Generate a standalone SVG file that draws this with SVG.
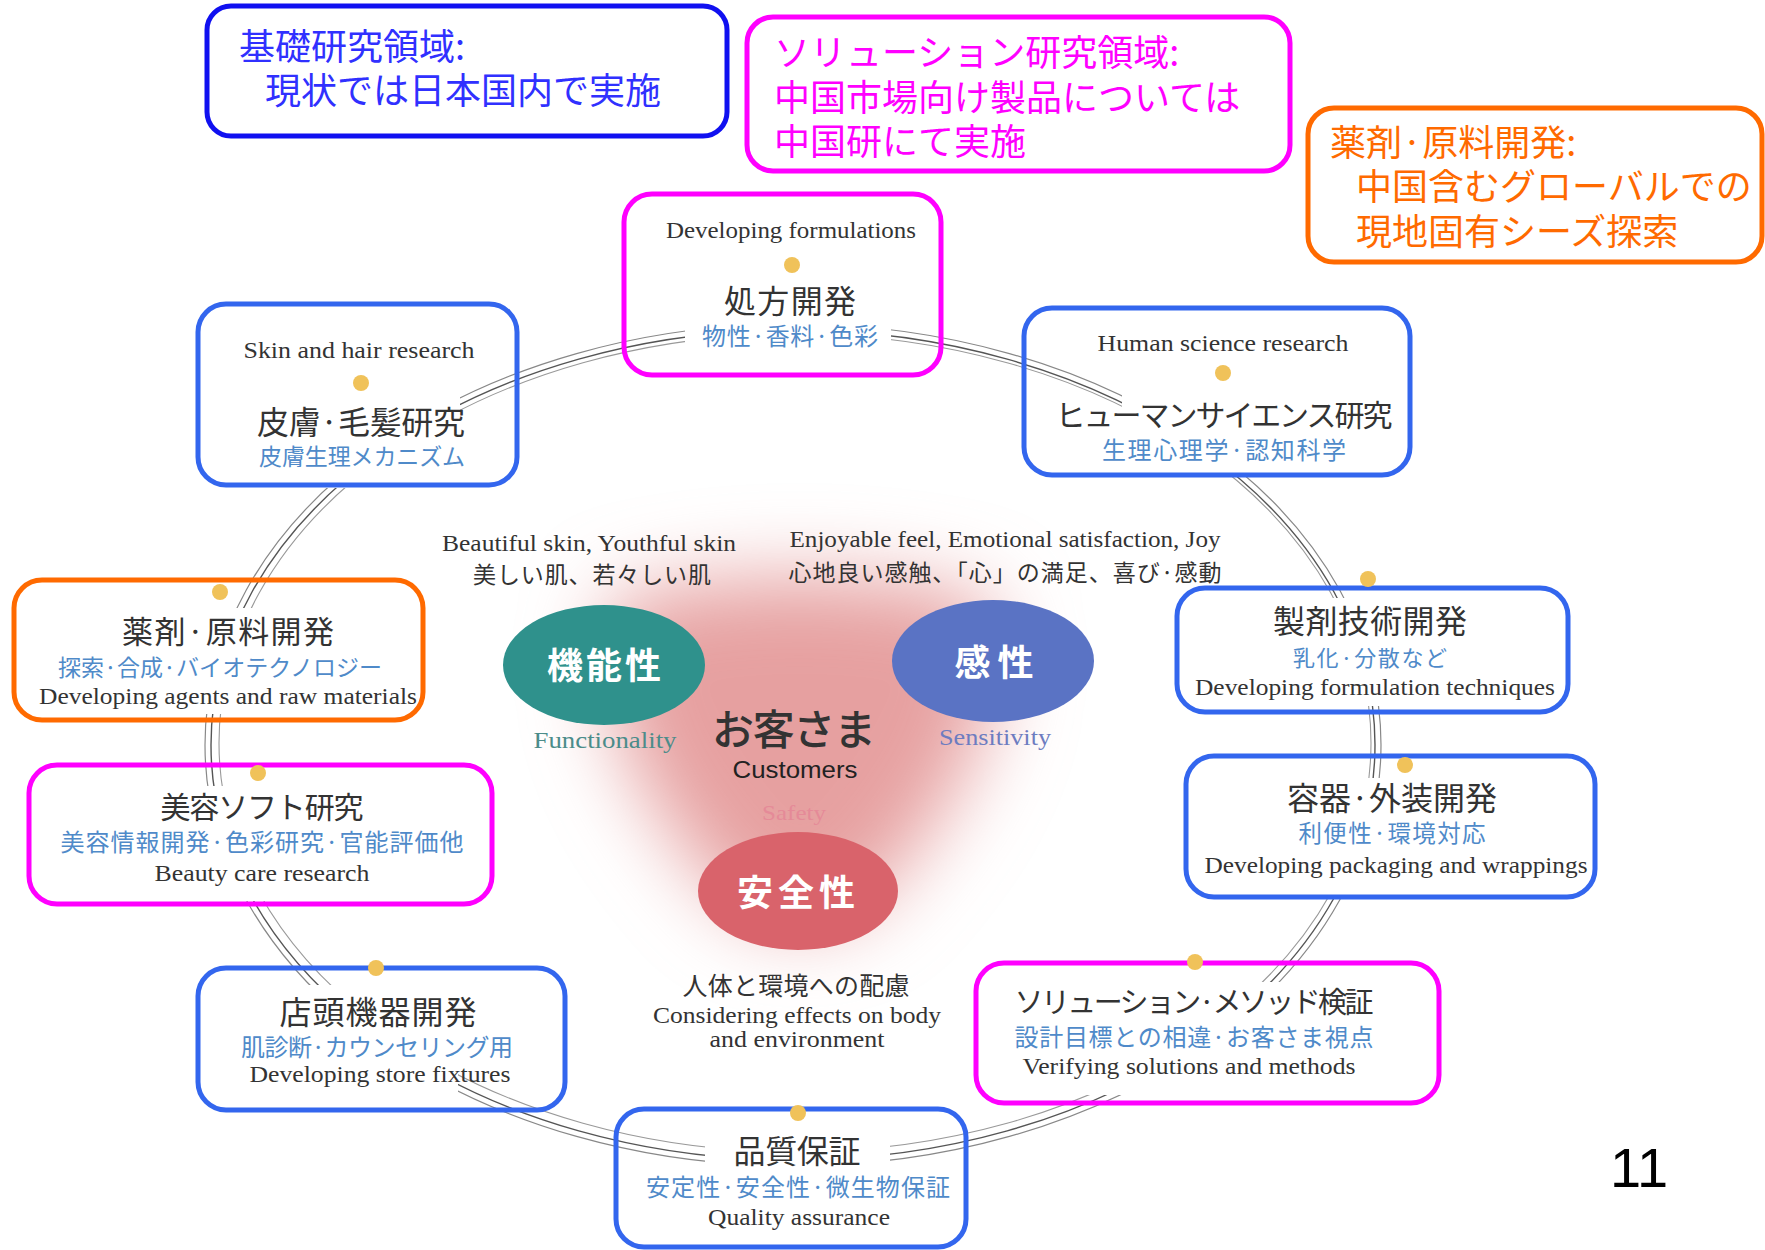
<svg xmlns="http://www.w3.org/2000/svg" width="1765" height="1250" viewBox="0 0 1765 1250">
<style>
.jp{font-family:'Noto Sans CJK JP','Noto Sans',sans-serif;}
.ttl{font-family:'Noto Sans CJK JP',sans-serif;fill:#333;text-anchor:middle;}
.sub{font-family:'Noto Sans CJK JP',sans-serif;fill:#4f8ac9;text-anchor:middle;}
.eng{font-family:'Liberation Serif',serif;fill:#333;text-anchor:middle;}
.nb{fill:none;stroke:#3366ee;stroke-width:5;}
.nm{fill:none;stroke:#ff00ff;stroke-width:5;}
.no{fill:none;stroke:#ff6a00;stroke-width:5;}
.dot{fill:#f0c25a;}
.arc{fill:none;}
.ell{font-family:'Noto Sans CJK JP',sans-serif;fill:#fff;font-weight:bold;text-anchor:middle;}
</style>
<defs>
<filter id="blur" x="-50%" y="-50%" width="200%" height="200%"><feGaussianBlur stdDeviation="40"/></filter>
<mask id="gaps" maskUnits="userSpaceOnUse" x="0" y="0" width="1765" height="1250">
<rect x="0" y="0" width="1765" height="1250" fill="#fff"/>
<rect x="685" y="200" width="206" height="160" fill="#000"/>
<rect x="225" y="320" width="235" height="168" fill="#000"/>
<rect x="1122" y="320" width="268" height="156" fill="#000"/>
<rect x="20" y="608" width="400" height="106" fill="#000"/>
<rect x="35" y="786" width="450" height="115" fill="#000"/>
<rect x="205" y="985" width="253" height="113" fill="#000"/>
<rect x="705" y="1110" width="185" height="140" fill="#000"/>
<rect x="1000" y="982" width="380" height="113" fill="#000"/>
<rect x="1195" y="778" width="395" height="120" fill="#000"/>
<rect x="1185" y="598" width="380" height="108" fill="#000"/>
</mask>
</defs>
<rect x="0" y="0" width="1765" height="1250" fill="#fff"/>

<!-- central pink blob -->
<path d="M615,600 Q800,555 985,600 Q1030,730 870,900 Q800,950 730,900 Q570,730 615,600 Z" fill="#e6a0a0" filter="url(#blur)"/>

<!-- connectors: circular ribbon -->
<g id="connectors" mask="url(#gaps)">
<ellipse class="arc" cx="793" cy="745" rx="582" ry="415" stroke="#555" stroke-width="1.4"/>
<ellipse class="arc" cx="793" cy="745" rx="588" ry="421" stroke="#888" stroke-width="1.2"/>
<ellipse class="arc" cx="795" cy="743" rx="576" ry="409" stroke="#999" stroke-width="1.1"/>
</g>

<!-- top annotation boxes -->
<g id="note-basic">
<rect x="207" y="6" width="520" height="130" rx="24" fill="none" stroke="#1010f0" stroke-width="5"/>
<text class="jp" x="239" y="60" font-size="36" fill="#3030ff">基礎研究領域:</text>
<text class="jp" x="265" y="104" font-size="36" fill="#3030ff">現状では日本国内で実施</text>
</g>
<g id="note-solution">
<rect x="747" y="17" width="543" height="154" rx="26" fill="none" stroke="#ff00ff" stroke-width="5"/>
<text class="jp" x="774" y="66" font-size="36" fill="#ff00ff">ソリューション研究領域:</text>
<text class="jp" x="774" y="111" font-size="36" fill="#ff00ff">中国市場向け製品については</text>
<text class="jp" x="774" y="155" font-size="36" fill="#ff00ff">中国研にて実施</text>
</g>
<g id="note-agents">
<rect x="1308" y="108" width="454" height="154" rx="26" fill="none" stroke="#ff6a00" stroke-width="5"/>
<text class="jp" x="1330" y="156" font-size="36" fill="#ff6a00">薬剤·原料開発:</text>
<text class="jp" x="1356" y="200" font-size="36" fill="#ff6a00">中国含むグローバルでの</text>
<text class="jp" x="1356" y="245" font-size="36" fill="#ff6a00">現地固有シーズ探索</text>
</g>

<!-- nodes -->
<g id="node-formulation">
<rect class="nm" x="624" y="194" width="317" height="181" rx="28"/>
<text class="eng" x="791" y="238" font-size="24" textLength="250" lengthAdjust="spacingAndGlyphs">Developing formulations</text>
<circle class="dot" cx="792" cy="265" r="8"/>
<text class="ttl" x="790" y="313" font-size="32" textLength="132">処方開発</text>
<text class="sub" x="790" y="345" font-size="24" textLength="176">物性·香料·色彩</text>
</g>
<g id="node-skin">
<rect class="nb" x="198" y="304" width="319" height="181" rx="28"/>
<text class="eng" x="359" y="358" font-size="24" textLength="231" lengthAdjust="spacingAndGlyphs">Skin and hair research</text>
<circle class="dot" cx="361" cy="383" r="8"/>
<text class="ttl" x="361" y="434" font-size="32" textLength="208">皮膚·毛髪研究</text>
<text class="sub" x="362" y="465" font-size="23" textLength="206">皮膚生理メカニズム</text>
</g>
<g id="node-human">
<rect class="nb" x="1024" y="308" width="386" height="167" rx="28"/>
<text class="eng" x="1223" y="351" font-size="24" textLength="251" lengthAdjust="spacingAndGlyphs">Human science research</text>
<circle class="dot" cx="1223" cy="373" r="8"/>
<text class="ttl" x="1224" y="426" font-size="30" textLength="337">ヒューマンサイエンス研究</text>
<text class="sub" x="1224" y="459" font-size="24" textLength="244">生理心理学·認知科学</text>
</g>
<g id="node-agents">
<rect class="no" x="14" y="580" width="409" height="140" rx="28"/>
<circle class="dot" cx="220" cy="592" r="8"/>
<text class="ttl" x="228" y="643" font-size="31" textLength="212">薬剤·原料開発</text>
<text class="sub" x="220" y="676" font-size="23" textLength="324">探索·合成·バイオテクノロジー</text>
<text class="eng" x="228" y="704" font-size="23" textLength="378" lengthAdjust="spacingAndGlyphs">Developing agents and raw materials</text>
</g>
<g id="node-beauty">
<rect class="nm" x="29" y="765" width="463" height="139" rx="28"/>
<circle class="dot" cx="258" cy="773" r="8"/>
<text class="ttl" x="262" y="818" font-size="30" textLength="203">美容ソフト研究</text>
<text class="sub" x="262" y="851" font-size="24" textLength="403">美容情報開発·色彩研究·官能評価他</text>
<text class="eng" x="262" y="881" font-size="24" textLength="215" lengthAdjust="spacingAndGlyphs">Beauty care research</text>
</g>
<g id="node-formtech">
<rect class="nb" x="1177" y="588" width="391" height="124" rx="28"/>
<circle class="dot" cx="1368" cy="579" r="8"/>
<text class="ttl" x="1370" y="633" font-size="32" textLength="194">製剤技術開発</text>
<text class="sub" x="1370" y="666" font-size="22" textLength="154">乳化·分散など</text>
<text class="eng" x="1375" y="695" font-size="23" textLength="360" lengthAdjust="spacingAndGlyphs">Developing formulation techniques</text>
</g>
<g id="node-packaging">
<rect class="nb" x="1186" y="756" width="409" height="141" rx="28"/>
<circle class="dot" cx="1405" cy="765" r="8"/>
<text class="ttl" x="1392" y="810" font-size="32" textLength="210">容器·外装開発</text>
<text class="sub" x="1392" y="842" font-size="23.5" textLength="187">利便性·環境対応</text>
<text class="eng" x="1396" y="873" font-size="23" textLength="383" lengthAdjust="spacingAndGlyphs">Developing packaging and wrappings</text>
</g>
<g id="node-store">
<rect class="nb" x="198" y="968" width="367" height="142" rx="28"/>
<circle class="dot" cx="376" cy="968" r="8"/>
<text class="ttl" x="378" y="1024" font-size="32" textLength="197">店頭機器開発</text>
<text class="sub" x="377" y="1056" font-size="24" textLength="272">肌診断·カウンセリング用</text>
<text class="eng" x="380" y="1082" font-size="24" textLength="261" lengthAdjust="spacingAndGlyphs">Developing store fixtures</text>
</g>
<g id="node-quality">
<rect class="nb" x="616" y="1109" width="350" height="138" rx="28"/>
<circle class="dot" cx="798" cy="1113" r="8"/>
<text class="ttl" x="797" y="1163" font-size="32" textLength="127">品質保証</text>
<text class="sub" x="798" y="1196" font-size="24" textLength="304">安定性·安全性·微生物保証</text>
<text class="eng" x="799" y="1225" font-size="24" textLength="182" lengthAdjust="spacingAndGlyphs">Quality assurance</text>
</g>
<g id="node-verify">
<rect class="nm" x="976" y="963" width="463" height="140" rx="28"/>
<circle class="dot" cx="1195" cy="962" r="8"/>
<text class="ttl" x="1194" y="1013" font-size="29" textLength="359">ソリューション·メソッド検証</text>
<text class="sub" x="1194" y="1046" font-size="24" textLength="359">設計目標との相違·お客さま視点</text>
<text class="eng" x="1189" y="1074" font-size="24" textLength="333" lengthAdjust="spacingAndGlyphs">Verifying solutions and methods</text>
</g>

<!-- center -->
<g id="center">
<text class="eng" x="589" y="551" font-size="24" textLength="294" lengthAdjust="spacingAndGlyphs">Beautiful skin, Youthful skin</text>
<text class="ttl" x="592" y="583" font-size="23" textLength="238">美しい肌、若々しい肌</text>
<text class="eng" x="1005" y="547" font-size="24" textLength="431" lengthAdjust="spacingAndGlyphs">Enjoyable feel, Emotional satisfaction, Joy</text>
<text class="ttl" x="1005" y="581" font-size="23" textLength="433">心地良い感触、「心」の満足、喜び·感動</text>
</g>
<g id="node-functionality">
<ellipse cx="604" cy="665" rx="101" ry="60" fill="#2f918c"/>
<text class="ell" x="604" y="679" font-size="36" textLength="114">機能性</text>
<text class="eng" x="605" y="748" font-size="24" style="fill:#4b8c8a" textLength="143" lengthAdjust="spacingAndGlyphs">Functionality</text>
</g>
<g id="node-sensitivity">
<ellipse cx="993" cy="661" rx="101" ry="61" fill="#5a73c4"/>
<text class="ell" x="994" y="676" font-size="36" textLength="79">感性</text>
<text class="eng" x="995" y="745" font-size="24" style="fill:#6d7cc0" textLength="112" lengthAdjust="spacingAndGlyphs">Sensitivity</text>
</g>
<g id="node-customers">
<text class="ttl" x="794" y="745" font-size="42" font-weight="500" textLength="164">お客さま</text>
<text x="795" y="778" font-family="'Liberation Sans',sans-serif" font-size="24" fill="#222" text-anchor="middle" textLength="125" lengthAdjust="spacingAndGlyphs">Customers</text>
<text class="eng" x="794" y="820" font-size="22" style="fill:#e58a98" textLength="64" lengthAdjust="spacingAndGlyphs">Safety</text>
</g>
<g id="node-safety">
<ellipse cx="798" cy="891" rx="100" ry="59" fill="#d9636b"/>
<text class="ell" x="796" y="906" font-size="36" textLength="118">安全性</text>
<text class="ttl" x="796" y="995" font-size="25" textLength="227">人体と環境への配慮</text>
<text class="eng" x="797" y="1023" font-size="24" textLength="288" lengthAdjust="spacingAndGlyphs">Considering effects on body</text>
<text class="eng" x="797" y="1047" font-size="24" textLength="175" lengthAdjust="spacingAndGlyphs">and environment</text>
</g>
<text x="1610" y="1187" font-family="'Liberation Sans',sans-serif" font-size="56" fill="#000">11</text>
</svg>
